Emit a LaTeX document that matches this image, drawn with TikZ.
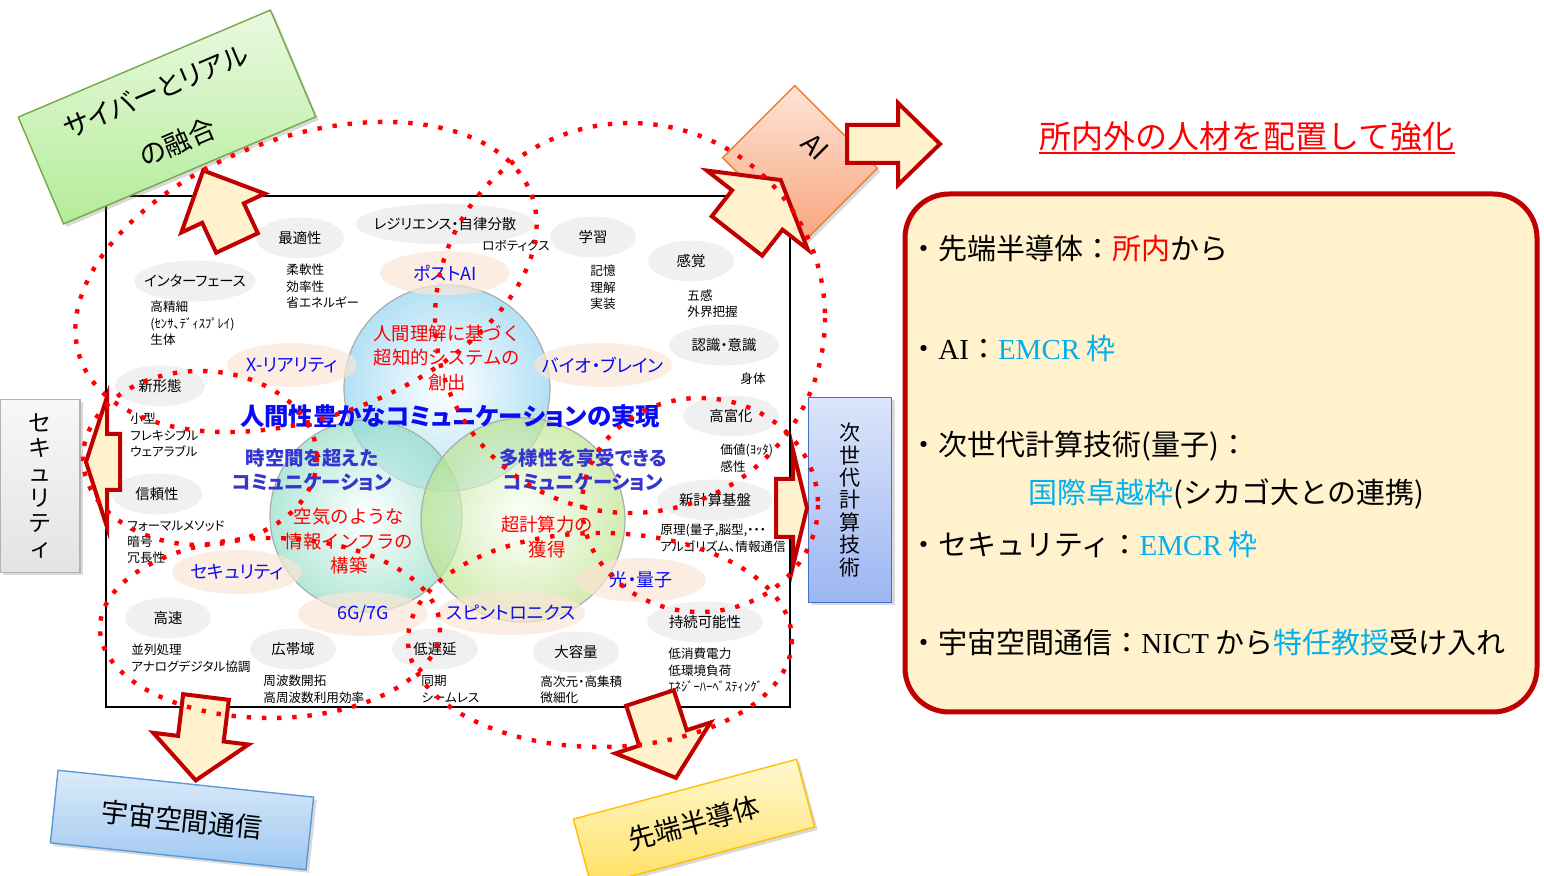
\documentclass[tikz,border=0pt]{standalone}
\usepackage{fontspec}
\setmainfont{Noto Sans CJK JP}
\newfontfamily\jp[RawFeature=+palt]{Noto Sans CJK JP}
\newfontfamily\lat{Liberation Serif}
\usepackage{xcolor}
\usetikzlibrary{shapes.geometric, shadows, positioning}

\definecolor{arrred}{HTML}{C00000}
\definecolor{arrfill}{HTML}{FFF2CC}
\definecolor{peach}{HTML}{FBE5D6}
\definecolor{softgray}{HTML}{F0F0F0}
\definecolor{txtblue}{HTML}{0A0AF5}
\definecolor{commblue}{HTML}{3535D0}
\definecolor{skyblue}{HTML}{00B0F0}
\definecolor{cybline}{HTML}{77A846}
\definecolor{cybtop}{HTML}{E9F9E0}
\definecolor{cybbot}{HTML}{B4EC98}
\definecolor{ailine}{HTML}{ED7D31}
\definecolor{aitop}{HTML}{FDE4D6}
\definecolor{aibot}{HTML}{F8A57E}
\definecolor{nextline}{HTML}{4472C4}
\definecolor{nexttop}{HTML}{DCE5FA}
\definecolor{nextbot}{HTML}{9CB6F2}
\definecolor{spline}{HTML}{5B9BD5}
\definecolor{sptop}{HTML}{DDEBF9}
\definecolor{spbot}{HTML}{9CC7F1}
\definecolor{semline}{HTML}{FFC000}
\definecolor{semtop}{HTML}{FFF8D0}
\definecolor{sembot}{HTML}{FFE063}
\definecolor{bubblue}{HTML}{8ED2F0}
\definecolor{bubteal}{HTML}{8FDCC6}
\definecolor{bubgreen}{HTML}{BCE38A}

% tail, angle, length, head length, shaft half width, head half width
\newcommand{\blockarrow}[6]{%
  \draw[blockarr, shift={(#1)}, rotate=#2]
    (0,#5) -- ({#3-#4},#5) -- ({#3-#4},#6) -- (#3,0) -- ({#3-#4},-#6) -- ({#3-#4},-#5) -- (0,-#5) -- cycle;}

\begin{document}
\begin{tikzpicture}[x=0.5pt, y=-0.5pt,
    grayell/.style={ellipse, fill=softgray, inner xsep=-4pt, inner ysep=1pt, minimum height=20.5pt, font=\jp\fontsize{7.2}{8}\selectfont},
    subtxt/.style={anchor=north west, align=left, inner sep=0pt, font=\jp\fontsize{6.3}{8.1}\selectfont},
    peachell/.style={ellipse, fill=peach, fill opacity=0.7, text opacity=1, text=txtblue, inner xsep=-6pt, inner ysep=1pt, minimum width=65pt, minimum height=22pt, font=\jp\fontsize{9}{10}\selectfont},
    bubble/.style={circle, draw=gray!65, line width=0.6pt, fill opacity=0.68, inner color=white},
    circtxt/.style={align=center, inner sep=0pt, text=red, font=\fontsize{9.2}{12.4}\selectfont},
    commtxt/.style={align=center, inner sep=0pt, text=commblue, font=\jp\bfseries\fontsize{9.7}{12.4}\selectfont},
    outbox/.style={draw, line width=0.7pt, inner sep=0pt, align=center, drop shadow={opacity=0.3, shadow xshift=1.5pt, shadow yshift=-1.5pt}, font=\jp\fontsize{13.5}{16}\selectfont},
    blockarr/.style={draw=arrred, fill=arrfill, line width=2pt, line join=miter},
    reddots/.style={red, line width=2.2pt, dash pattern=on 2.2pt off 5.4pt},
    paneltxt/.style={anchor=west, inner sep=0pt, font=\fontsize{14.5}{16}\selectfont}]

  \useasboundingbox (0,0) rectangle (1544,876);

  \node[draw, line width=1pt, minimum width=342pt, minimum height=255.5pt, inner sep=0pt] (frame) at (448,451.5) {};

  \node[grayell, minimum width=60pt] (iface) at (195,281) {インターフェース};
  \node[grayell, minimum width=44pt] (saiteki) at (300,238) {最適性};
  \node[grayell, minimum width=76pt] (resil) at (445,224) {レジリエンス・自律分散};
  \node[grayell, minimum width=43pt] (gakushu) at (593,237) {学習};
  \node[grayell, minimum width=43pt] (kankaku) at (691,261) {感覚};
  \node[grayell, minimum width=55pt] (ninshiki) at (724,345) {認識・意識};
  \node[grayell, minimum width=45pt] (shinkei) at (160,386) {新形態};
  \node[grayell, minimum width=45pt] (shinrai) at (157,494) {信頼性};
  \node[grayell, minimum width=48pt] (kofuka) at (731,416) {高富化};
  \node[grayell, minimum width=58pt] (keisan) at (715,500) {新計算基盤};
  \node[grayell, minimum width=58pt] (jizoku) at (705,622) {持続可能性};
  \node[grayell, minimum width=43pt] (kosoku) at (168,618) {高速};
  \node[grayell, minimum width=43pt] (taiiki) at (293,649) {広帯域};
  \node[grayell, minimum width=43pt] (chien) at (435,649) {低遅延};
  \node[grayell, minimum width=43pt] (yoryo) at (576,652) {大容量};

  \node[subtxt] (ifacesub) at (150,301) {高精細\\(ｾﾝｻ、ﾃﾞｨｽﾌﾟﾚｲ)\\生体};
  \node[subtxt] (saitekisub) at (286,264) {柔軟性\\効率性\\省エネルギー};
  \node[subtxt] (resilsub) at (482,240) {ロボティクス};
  \node[subtxt] (gakushusub) at (590,265) {記憶\\理解\\実装};
  \node[subtxt] (kankakusub) at (687,289) {五感\\外界把握};
  \node[subtxt] (ninshikisub) at (740,372) {身体};
  \node[subtxt] (shinkeisub) at (130,413) {小型\\フレキシブル\\ウェアラブル};
  \node[subtxt] (shinraisub) at (127,520) {フォーマルメソッド\\暗号\\冗長性};
  \node[subtxt] (kofukasub) at (720,444) {価値(ﾖｯﾀ)\\感性};
  \node[subtxt] (keisansub) at (660,524) {原理(量子,脳型,・・・\\アルゴリズム、情報通信};
  \node[subtxt] (jizokusub) at (668,648) {低消費電力\\低環境負荷\\ｴﾈｼﾞｰﾊｰﾍﾞｽﾃｨﾝｸﾞ};
  \node[subtxt] (kosokusub) at (131,644) {並列処理\\アナログデジタル協調};
  \node[subtxt] (taiikisub) at (263,675) {周波数開拓\\高周波数利用効率};
  \node[subtxt] (chiensub) at (421,675) {同期\\シームレス};
  \node[subtxt] (yoryosub) at (540,675) {高次元・高集積\\微細化};

  \node[bubble, minimum size=103pt, outer color=bubblue] (bluebub) at (447,388) {};
  \node[bubble, minimum size=96pt, outer color=bubteal] (tealbub) at (366,516) {};
  \node[bubble, minimum size=102pt, outer color=bubgreen] (greenbub) at (523,520) {};

  \node[peachell] (postai) at (445,273) {ポストAI};
  \node[peachell] (xr) at (292,365) {X-リアリティ};
  \node[peachell] (bio) at (603,365) {バイオ・ブレイン};
  \node[peachell] (secu) at (237,572) {セキュリティ};
  \node[peachell] (sixg) at (363,614) {6G/7G};
  \node[peachell] (spin) at (511,613) {スピントロニクス};
  \node[peachell] (hikari) at (641,580) {光・量子};

  \node[circtxt] (souzou) at (447,358) {人間理解に基づく\\超知的システムの\\創出};
  \node[circtxt] (kuuki) at (349,541) {空気のような\\情報インフラの\\構築};
  \node[circtxt] (chokeisan) at (547,537) {超計算力の\\獲得};
  \node[commtxt] (jikuu) at (312,470) {時空間を超えた\\コミュニケーション};
  \node[commtxt] (tayou) at (583,470) {多様性を享受できる\\コミュニケーション};
  \node[inner sep=0pt, text=txtblue, font=\jp\bfseries\fontsize{12.2}{14}\selectfont] (ningen) at (450,416) {人間性豊かなコミュニケーションの実現};

  \node[outbox, draw=cybline, top color=cybtop, bottom color=cybbot, minimum width=137pt, minimum height=58pt, rotate=23, font=\jp\fontsize{13.5}{28}\selectfont] (cyber) at (167,117) {サイバーとリアル\\の融合};
  \node[outbox, draw=ailine, top color=aitop, bottom color=aibot, minimum width=58.5pt, minimum height=51pt, rotate=-45] (aibox) at (800,163) {};
  \node[inner sep=0pt, rotate=-45, font=\jp\fontsize{13.5}{16}\selectfont] (ailabel) at (815,147) {AI};
  \node[outbox, draw=gray!60, top color=gray!6, bottom color=gray!22, minimum width=40pt, minimum height=86.5pt, font=\jp\fontsize{11.5}{12.5}\selectfont] (secbox) at (40,486) {セ\\キ\\ュ\\リ\\テ\\ィ};
  \node[outbox, draw=nextline, top color=nexttop, bottom color=nextbot, minimum width=41.5pt, minimum height=102.5pt, font=\jp\fontsize{10.5}{11.2}\selectfont] (nextbox) at (850,500) {次\\世\\代\\計\\算\\技\\術};
  \node[outbox, draw=spline, top color=sptop, bottom color=spbot, minimum width=128.5pt, minimum height=36.5pt, rotate=-6] (spacebox) at (182,820) {宇宙空間通信};
  \node[outbox, draw=semline, top color=semtop, bottom color=sembot, minimum width=115.5pt, minimum height=35pt, rotate=15] (semibox) at (694,823) {先端半導体};

  \blockarrow{237,243}{115}{80}{47}{23}{46}
  \blockarrow{737,236}{52}{71}{38}{32}{64}
  \blockarrow{847,144}{0}{93}{42}{19}{41}
  \blockarrow{120,462}{180}{34}{21}{28}{65}
  \blockarrow{776,508}{0}{31}{14}{29}{58}
  \blockarrow{206,697}{-97}{84}{42}{23}{48}
  \blockarrow{650,698}{-72}{84}{42}{25}{50}

  \node[text=red, inner sep=0pt, font=\fontsize{16}{18}\selectfont] (title) at (1247,136) {所内外の人材を配置して強化};
  \draw[red, line width=1pt] ([yshift=-1pt]title.south west) -- ([yshift=-1pt]title.south east);

  \node[draw=arrred, line width=2.5pt, fill=arrfill, rounded corners=22pt, minimum width=316pt, minimum height=259pt, inner sep=0pt] (panel) at (1221,453) {};
  \node[paneltxt] (pl1) at (909,249) {・先端半導体：\textcolor{red}{所内}から};
  \node[paneltxt] (pl2) at (909,348) {・{\lat AI}：\textcolor{skyblue}{{\lat EMCR} 枠}};
  \node[paneltxt] (pl3) at (909,446) {・次世代計算技術(量子)：};
  \node[paneltxt] (pl4) at (1028,494) {\textcolor{skyblue}{国際卓越枠}(シカゴ大との連携)};
  \node[paneltxt] (pl5) at (909,544) {・セキュリティ：\textcolor{skyblue}{{\lat EMCR} 枠}};
  \node[paneltxt] (pl6) at (909,642) {・宇宙空間通信：{\lat NICT} から\textcolor{skyblue}{特任教授}受け入れ};

  \draw[reddots, rotate around={20:(306,277)}] (306,277) ellipse [x radius=240, y radius=140];
  \draw[reddots] (630,318) circle [radius=195];
  \draw[reddots] (200,458) ellipse [x radius=117, y radius=87];
  \draw[reddots] (270,628) ellipse [x radius=170, y radius=90];
  \draw[reddots] (600,640) ellipse [x radius=192, y radius=107];
  \draw[reddots] (700,505) ellipse [x radius=118, y radius=107];
\end{tikzpicture}
\end{document}
